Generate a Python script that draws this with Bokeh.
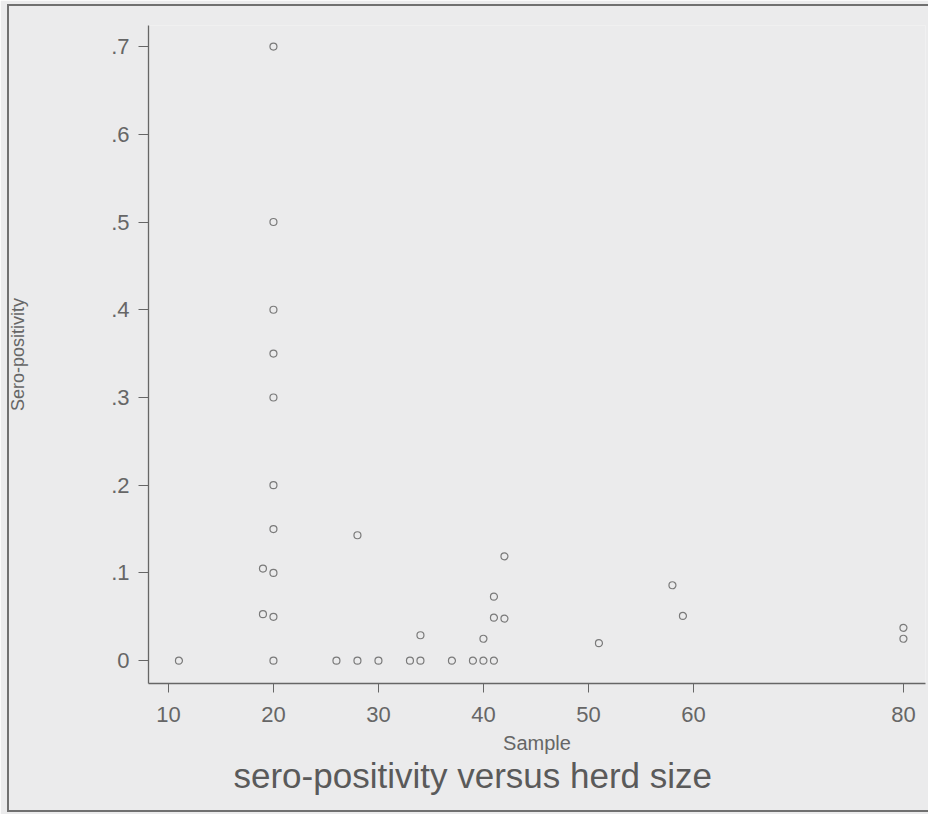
from bokeh.plotting import figure
from bokeh.models import FixedTicker, Range1d, Title, InlineStyleSheet
from bokeh.embed import file_html
from bokeh.resources import INLINE

# Data: herd sample size vs. sero-positivity
sample = [11,
          19, 19,
          20, 20, 20, 20, 20, 20, 20, 20, 20, 20,
          26,
          28, 28,
          30,
          33,
          34, 34,
          37,
          39,
          40, 40,
          41, 41, 41,
          42, 42,
          51,
          58,
          59,
          80, 80]
sero = [0.0,
        0.105, 0.053,
        0.70, 0.50, 0.40, 0.35, 0.30, 0.20, 0.15, 0.10, 0.05, 0.0,
        0.0,
        0.143, 0.0,
        0.0,
        0.0,
        0.029, 0.0,
        0.0,
        0.0,
        0.025, 0.0,
        0.073, 0.049, 0.0,
        0.119, 0.048,
        0.020,
        0.086,
        0.051,
        0.0375, 0.025]

x_ticks = [10, 20, 30, 40, 50, 60, 80]
y_ticks = [0, 0.1, 0.2, 0.3, 0.4, 0.5, 0.6, 0.7]
y_tick_labels = ["0", ".1", ".2", ".3", ".4", ".5", ".6", ".7"]

BG = "#ebebec"
INK = "#666666"
EDGE = "#707070"
FONT = "Liberation Sans"

p = figure(width=928, height=814, output_backend="svg", toolbar_location=None,
           x_range=Range1d(8.1, 82.1), y_range=Range1d(-0.026, 0.724),
           min_border_left=148, min_border_right=3, min_border_top=25,
           min_border_bottom=131)
p.background_fill_color = BG
p.border_fill_color = BG
p.outline_line_color = None
p.grid.visible = False

# thin page frame lines (left, top, bottom) drawn over the canvas
p.stylesheets = [InlineStyleSheet(css=(
    ":host::before { content: ''; position: absolute; left: 7px; top: 4px; "
    "width: 2px; height: 808px; background: %s; pointer-events: none; z-index: 5; }"
    ":host::after { content: ''; position: absolute; left: 7px; top: 4px; "
    "width: 921px; height: 808px; box-sizing: border-box; "
    "border-top: 2px solid %s; border-bottom: 2px solid %s; "
    "pointer-events: none; z-index: 5; }"
) % (EDGE, EDGE, EDGE))]

p.scatter(sample, sero, marker="circle", size=7, fill_color=None,
          line_color="#7a7a7a", line_width=1.2)

for ax in (p.xaxis[0], p.yaxis[0]):
    ax.axis_line_color = INK
    ax.axis_line_width = 1.3
    ax.major_tick_line_color = INK
    ax.major_tick_in = 0
    ax.minor_tick_line_color = None
    ax.major_label_text_color = INK
    ax.major_label_text_font = FONT
    ax.major_label_text_font_size = "22px"
    ax.axis_label_text_color = INK
    ax.axis_label_text_font = FONT
    ax.axis_label_text_font_style = "normal"

xa = p.xaxis[0]
xa.ticker = FixedTicker(ticks=x_ticks)
xa.major_tick_out = 9
xa.major_label_standoff = 14
xa.axis_label = "Sample"
xa.axis_label_text_font_size = "20px"
xa.axis_label_standoff = 7

ya = p.yaxis[0]
ya.ticker = FixedTicker(ticks=y_ticks)
ya.major_label_overrides = {t: l for t, l in zip(y_ticks, y_tick_labels)}
ya.major_tick_out = 10
ya.major_label_standoff = 9
ya.axis_label = "Sero-positivity"
ya.axis_label_text_font_size = "18px"
ya.axis_label_standoff = 80

title = Title(text="sero-positivity versus herd size", align="left", offset=85,
              text_font=FONT, text_font_size="35px", text_font_style="normal",
              text_color="#5a5a5a", standoff=-6)
p.add_layout(title, "below")

open("out.html", "w").write(file_html(p, INLINE))
